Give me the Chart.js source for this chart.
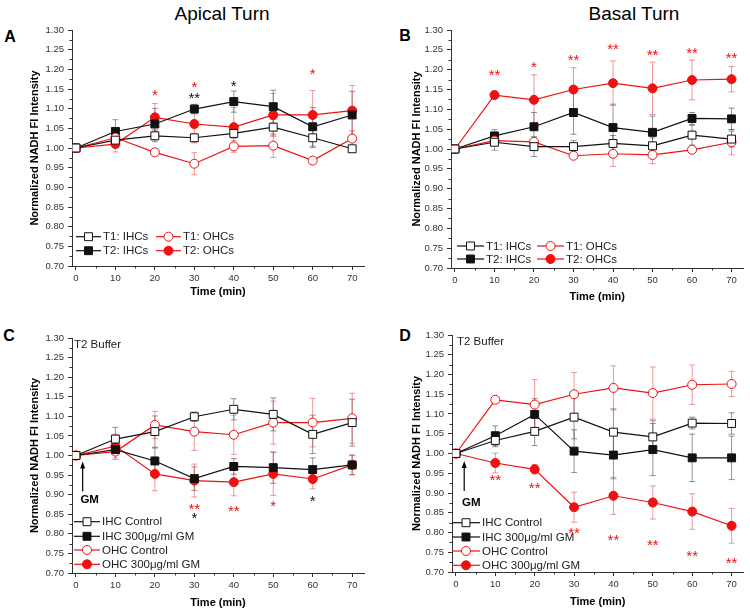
<!DOCTYPE html>
<html>
<head>
<meta charset="utf-8">
<script src="https://cdn.jsdelivr.net/npm/chart.js@4.4.0/dist/chart.umd.min.js"></script>
<style>
body{margin:0;background:#fff;width:750px;height:613px;position:relative;overflow:hidden;font-family:"Liberation Sans",Arial,sans-serif}
canvas{position:absolute}
.t{position:absolute;transform:translate(-50%,-50%);white-space:nowrap;color:#000}
.L{font-weight:bold;font-size:16px}
</style>
</head>
<body>
<div class="t" style="left:222px;top:14px;font-size:19px">Apical Turn</div>
<div class="t" style="left:634px;top:14px;font-size:19px">Basal Turn</div>
<div class="t L" style="left:10px;top:37px">A</div>
<div class="t L" style="left:405px;top:36px">B</div>
<div class="t L" style="left:9px;top:336px">C</div>
<div class="t L" style="left:405px;top:336px">D</div>
<canvas id="cA" width="375" height="306" style="left:0;top:0"></canvas>
<canvas id="cB" width="375" height="306" style="left:375px;top:0"></canvas>
<canvas id="cC" width="375" height="307" style="left:0;top:306px"></canvas>
<canvas id="cD" width="375" height="307" style="left:375px;top:306px"></canvas>
<script>
// time points (min)
const time = [0, 10, 20, 30, 40, 50, 60, 70];
const yTicks = [0.70, 1.30, 0.05];

// A - apical turn
const aT1IHC    = [1.000, 1.020, 1.031, 1.026, 1.037, 1.053, 1.026, 0.998];
const aT1IHCErr = [0, 0.010, 0.015, 0.010, 0.012, 0.020, 0.025, 0.008];
const aT2IHC    = [1.000, 1.042, 1.061, 1.099, 1.118, 1.105, 1.054, 1.084];
const aT2IHCErr = [0, 0.030, 0.040, 0.012, 0.027, 0.042, 0.049, 0.060];
const aT1OHC    = [1.000, 1.026, 0.989, 0.960, 1.004, 1.006, 0.968, 1.024];
const aT1OHCErr = [0, 0.020, 0.008, 0.028, 0.015, 0.030, 0.008, 0.020];
const aT2OHC    = [1.000, 1.010, 1.078, 1.061, 1.053, 1.084, 1.084, 1.095];
const aT2OHCErr = [0, 0.020, 0.035, 0.048, 0.050, 0.055, 0.062, 0.064];

// B - basal turn
const bT1IHC    = [1.000, 1.017, 1.006, 1.006, 1.014, 1.008, 1.035, 1.025];
const bT1IHCErr = [0, 0.020, 0.025, 0.015, 0.020, 0.020, 0.025, 0.020];
const bT2IHC    = [1.000, 1.033, 1.056, 1.092, 1.054, 1.042, 1.077, 1.076];
const bT2IHCErr = [0, 0.016, 0.036, 0.055, 0.059, 0.041, 0.015, 0.027];
const bT1OHC    = [1.000, 1.021, 1.018, 0.983, 0.988, 0.985, 0.998, 1.017];
const bT1OHCErr = [0, 0.010, 0.010, 0.005, 0.032, 0.022, 0.008, 0.032];
const bT2OHC    = [1.000, 1.136, 1.124, 1.150, 1.166, 1.153, 1.174, 1.176];
const bT2OHCErr = [0, 0.004, 0.063, 0.055, 0.056, 0.066, 0.050, 0.032];

// C - apical, T2 buffer +/- GM
const cIHCGM    = [1.000, 1.015, 0.986, 0.941, 0.972, 0.969, 0.964, 0.976];
const cIHCGMErr = [0, 0.012, 0.033, 0.030, 0.020, 0.040, 0.030, 0.025];
const cOHCGM    = [1.000, 1.024, 0.953, 0.936, 0.932, 0.953, 0.940, 0.976];
const cOHCGMErr = [0, 0.030, 0.043, 0.042, 0.035, 0.055, 0.025, 0.025];

// D - basal, T2 buffer +/- GM
const dIHCGM    = [1.000, 1.045, 1.099, 1.006, 0.996, 1.010, 0.989, 0.989];
const dIHCGMErr = [0, 0.025, 0.040, 0.054, 0.060, 0.066, 0.060, 0.055];
const dOHCGM    = [1.000, 0.976, 0.960, 0.864, 0.893, 0.876, 0.853, 0.817];
const dOHCGMErr = [0, 0.025, 0.012, 0.038, 0.047, 0.042, 0.045, 0.044];

// significance marks [time, value, text, colour]
const aStars = [[20,1.143,'*','r'],[30,1.164,'*','r'],[30,1.135,'**','k'],[40,1.166,'*','k'],[60,1.198,'*','r']];
const bStars = [[10,1.195,'**','r'],[20,1.216,'*','r'],[30,1.233,'**','r'],[40,1.260,'**','r'],[50,1.245,'**','r'],[60,1.251,'**','r'],[70,1.237,'**','r']];
const cStars = [[30,0.872,'**','r'],[30,0.849,'*','k'],[40,0.866,'**','r'],[50,0.880,'*','r'],[60,0.892,'*','k']];
const dStars = [[10,0.941,'**','r'],[20,0.922,'**','r'],[30,0.808,'**','r'],[40,0.791,'**','r'],[50,0.776,'**','r'],[60,0.749,'**','r'],[70,0.732,'**','r']];

// GM arrow [time, tip value, tail value]
const cArrow = [1.7, 0.985, 0.908];
const dArrow = [2.1, 0.981, 0.905];

const RED = '#ee1111', BLACK = '#111111';
const COL = {r: RED, k: BLACK};
const FONT = '"Liberation Sans", Arial, sans-serif';

function ser(label, vals, errs, color, shape, filled){
  return {label: label, data: time.map((t,i)=>({x:t, y:vals[i]})), errs: errs,
    borderColor: color, backgroundColor: color, borderWidth: 1.2, tension: 0,
    pointStyle: shape, pointRadius: shape==='rect' ? 5.6 : 4.5, pointHoverRadius: 0,
    pointBackgroundColor: filled ? color : '#fff', pointBorderColor: color, pointBorderWidth: 1,
    shape: shape, filled: filled};
}

function marker(ctx, x, y, d){
  ctx.save();
  ctx.fillStyle = d.filled ? d.borderColor : '#fff';
  ctx.strokeStyle = d.borderColor; ctx.lineWidth = 1;
  ctx.beginPath();
  if(d.shape==='rect'){ const s = d.pointRadius*Math.SQRT1_2; ctx.rect(x-s, y-s, 2*s, 2*s); }
  else ctx.arc(x, y, d.pointRadius, 0, Math.PI*2);
  ctx.fill(); ctx.stroke();
  ctx.restore();
}

function extras(p){
  return {
    id: 'extras',
    beforeDatasetsDraw(chart){
      const ctx = chart.ctx, xs = chart.scales.x, ys = chart.scales.y;
      chart.data.datasets.forEach(d=>{
        ctx.save();
        ctx.strokeStyle = d.borderColor===RED ? 'rgba(225,70,70,0.55)' : 'rgba(60,60,60,0.55)';
        ctx.lineWidth = 1;
        d.data.forEach((pt,i)=>{
          const e = d.errs[i]; if(!e) return;
          const x = xs.getPixelForValue(pt.x), y1 = ys.getPixelForValue(pt.y+e), y2 = ys.getPixelForValue(pt.y-e);
          ctx.beginPath();
          ctx.moveTo(x, y1); ctx.lineTo(x, y2);
          ctx.moveTo(x-3, y1); ctx.lineTo(x+3, y1);
          ctx.moveTo(x-3, y2); ctx.lineTo(x+3, y2);
          ctx.stroke();
        });
        ctx.restore();
      });
    },
    afterDraw(chart){
      const ctx = chart.ctx, xs = chart.scales.x, ys = chart.scales.y, a = chart.chartArea;
      ctx.save();
      // minor ticks
      ctx.strokeStyle = '#333'; ctx.lineWidth = 1;
      ctx.beginPath();
      for(let v = yTicks[0]+yTicks[2]/2; v < yTicks[1]; v += yTicks[2]){
        const y = Math.round(ys.getPixelForValue(v))+0.5;
        ctx.moveTo(a.left, y); ctx.lineTo(a.left-2.5, y);
      }
      for(let t = 5; t < 70; t += 10){
        const x = Math.round(xs.getPixelForValue(t))+0.5;
        ctx.moveTo(x, a.bottom); ctx.lineTo(x, a.bottom+2.5);
      }
      ctx.stroke();
      // stars
      ctx.font = '15px ' + FONT; ctx.textAlign = 'center'; ctx.textBaseline = 'alphabetic';
      p.stars.forEach(s=>{
        ctx.fillStyle = COL[s[3]];
        ctx.fillText(s[2], xs.getPixelForValue(s[0]), ys.getPixelForValue(s[1]) + 8.5);
      });
      // buffer note
      if(p.note){
        ctx.fillStyle = '#222'; ctx.font = '11.5px ' + FONT; ctx.textAlign = 'left'; ctx.textBaseline = 'middle';
        ctx.fillText(p.note, a.left + 2 + (p.noteDx||0), a.top + 7);
      }
      // GM arrow
      if(p.arrow){
        const x = xs.getPixelForValue(p.arrow[0]), yt = ys.getPixelForValue(p.arrow[1]), yb = ys.getPixelForValue(p.arrow[2]);
        ctx.strokeStyle = '#000'; ctx.fillStyle = '#000'; ctx.lineWidth = 1.2;
        ctx.beginPath(); ctx.moveTo(x, yb); ctx.lineTo(x, yt+5); ctx.stroke();
        ctx.beginPath(); ctx.moveTo(x, yt); ctx.lineTo(x-2.5, yt+7); ctx.lineTo(x+2.5, yt+7); ctx.closePath(); ctx.fill();
        ctx.font = 'bold 11.5px ' + FONT; ctx.textAlign = 'center'; ctx.textBaseline = 'middle';
        ctx.fillText('GM', x + 7, yb + p.gmDy);
      }
      // legend
      ctx.font = '11.5px ' + FONT; ctx.textAlign = 'left'; ctx.textBaseline = 'middle';
      p.legend.forEach((L,i)=>{
        const d = chart.data.datasets[i];
        ctx.strokeStyle = d.borderColor; ctx.lineWidth = 1.2;
        ctx.beginPath(); ctx.moveTo(L[0], L[1]); ctx.lineTo(L[0]+p.legLen, L[1]); ctx.stroke();
        marker(ctx, L[0]+p.legLen/2, L[1], d);
        ctx.fillStyle = '#222';
        ctx.fillText(d.label, L[0]+p.legLen+2, L[1]+0.5);
      });
      ctx.restore();
    }
  };
}

function panel(id, p){
  const W = document.getElementById(id).width, H = document.getElementById(id).height;
  new Chart(document.getElementById(id), {
    type: 'line',
    data: {datasets: p.sets},
    options: {
      responsive: false, animation: false, events: [],
      layout: {padding: {left: 0, top: p.area[1], right: W - p.area[2], bottom: 0}},
      plugins: {legend: {display: false}, tooltip: {enabled: false}},
      scales: {
        x: {type: 'linear', min: -1, max: 73,
          afterBuildTicks: s => { s.ticks = time.map(t=>({value:t})); },
          afterFit: s => { s.height = H - p.area[3]; },
          grid: {drawOnChartArea: false, tickLength: 4, color: '#333'},
          border: {color: '#333', width: 1},
          ticks: {padding: 3, color: '#333', font: {family: FONT, size: 9.5}},
          title: {display: true, text: 'Time (min)', color: '#000', padding: {top: 0, bottom: p.xt},
            font: {family: FONT, size: 11, weight: 'bold'}}},
        y: {min: yTicks[0], max: yTicks[1],
          ticks: {stepSize: yTicks[2], padding: 4, color: '#333', font: {family: FONT, size: 9.5},
            callback: v => v.toFixed(2)},
          afterFit: s => { s.width = p.area[0]; },
          grid: {drawOnChartArea: false, tickLength: 4, color: '#333'},
          border: {color: '#333', width: 1},
          title: {display: true, text: 'Normalized NADH FI Intensity', color: '#000', padding: {top: p.yt, bottom: 0},
            font: {family: FONT, size: 11, weight: 'bold'}}}
      }
    },
    plugins: [extras(p)]
  });
}

panel('cA', {
  area: [72, 30, 364, 266], xt: 7.4, yt: 28.4, stars: aStars, legLen: 25,
  sets: [ser('T1: IHCs', aT1IHC, aT1IHCErr, BLACK, 'rect', false),
         ser('T1: OHCs', aT1OHC, aT1OHCErr, RED, 'circle', false),
         ser('T2: IHCs', aT2IHC, aT2IHCErr, BLACK, 'rect', true),
         ser('T2: OHCs', aT2OHC, aT2OHCErr, RED, 'circle', true)],
  legend: [[76, 236.7], [156, 236.7], [76, 250.7], [156, 250.7]]
});
panel('cB', {
  area: [76, 30, 371, 268], xt: 2, yt: 35.4, stars: bStars, legLen: 27,
  sets: [ser('T1: IHCs', bT1IHC, bT1IHCErr, BLACK, 'rect', false),
         ser('T1: OHCs', bT1OHC, bT1OHCErr, RED, 'circle', false),
         ser('T2: IHCs', bT2IHC, bT2IHCErr, BLACK, 'rect', true),
         ser('T2: OHCs', bT2OHC, bT2OHCErr, RED, 'circle', true)],
  legend: [[82, 246], [162, 246], [82, 259], [162, 259]]
});
panel('cC', {
  area: [72, 32, 364, 267], xt: 3.4, yt: 28.4, stars: cStars, legLen: 26,
  note: 'T2 Buffer', arrow: cArrow, gmDy: 8,
  sets: [ser('IHC Control', aT2IHC, aT2IHCErr, BLACK, 'rect', false),
         ser('IHC 300\u03bcg/ml GM', cIHCGM, cIHCGMErr, BLACK, 'rect', true),
         ser('OHC Control', aT2OHC, aT2OHCErr, RED, 'circle', false),
         ser('OHC 300\u03bcg/ml GM', cOHCGM, cOHCGMErr, RED, 'circle', true)],
  legend: [[74, 215.7], [74, 230.3], [74, 244], [74, 258.3]]
});
panel('cD', {
  area: [77, 29, 371, 266], xt: 4, yt: 34.9, stars: dStars, legLen: 28,
  note: 'T2 Buffer', noteDx: 3, arrow: dArrow, gmDy: 12,
  sets: [ser('IHC Control', bT2IHC, bT2IHCErr, BLACK, 'rect', false),
         ser('IHC 300\u03bcg/ml GM', dIHCGM, dIHCGMErr, BLACK, 'rect', true),
         ser('OHC Control', bT2OHC, bT2OHCErr, RED, 'circle', false),
         ser('OHC 300\u03bcg/ml GM', dOHCGM, dOHCGMErr, RED, 'circle', true)],
  legend: [[77, 216.7], [77, 231], [77, 245], [77, 259.3]]
});
</script>
</body>
</html>
